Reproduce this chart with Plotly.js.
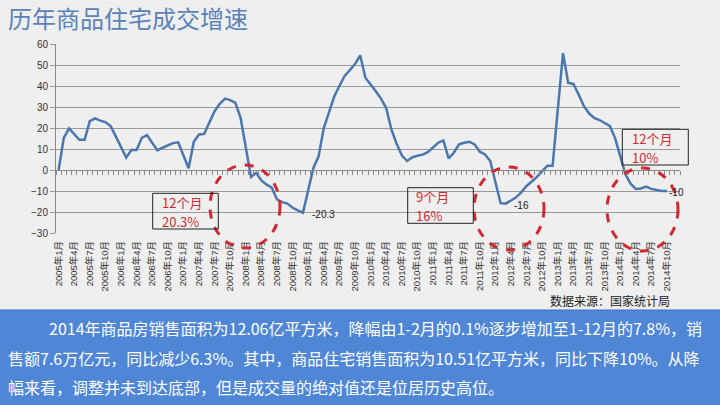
<!DOCTYPE html>
<html><head><meta charset="utf-8">
<script src="https://cdn.plot.ly/plotly-3.0.1.min.js"></script>
<style>html,body{margin:0;padding:0;background:#efefef;}#chart{width:720px;height:405px;}</style>
</head><body><div id="chart"></div>
<script>
// ---- data (cumulative YoY growth of residential sales area, %) ----
const years = [2005, 2006, 2007, 2008, 2009, 2010, 2011, 2012, 2013, 2014];
const v2005 = [0, 15.3, 19.8, 17, 14.4, 14.4, 23.3, 24.6, 23.5, 22.8, 20.9, 16];
const v2006 = [null, 5.9, 9.5, 9.5, 15.3, 16.6, 13, 9.3, 10.6, 11.7, 12.8, 13.2];
const v2007 = [null, 0.8, 13.4, 16.9, 17.2, 22.5, 28, 31.5, 34, 33.3, 32, 24.8];
const v2008 = [null, -3.3, -1.3, -5, -7, -8.4, -14, -15.3, -16, -18, -19.2, -20.3];
const v2009 = [null, 1, 6.5, 20, 27.5, 35, 40, 44.8, 47.5, 50.5, 54.6, 43.9];
const v2010 = [null, 37.5, 34, 29.5, 19.3, 12.5, 7, 4.3, 6, 6.8, 7.3, 8.5];
const v2011 = [null, 13, 14.1, 5.5, 8.2, 12.2, 13, 13.4, 12.2, 8.7, 7.4, 4.3];
const v2012 = [null, -15.8, -16, -14.5, -13, -10.5, -7.6, -5.5, -3.3, -0.5, 2, 2];
const v2013 = [null, 55.7, 41.5, 41, 36, 30.5, 27, 24.8, 23.8, 22.5, 21, 15.3];
const v2014 = [null, -2, -6.5, -9, -8.8, -7.9, -9, -9.6, -10, -10];
const labelCats = ['2008年12月', '2012年3月', '2014年10月'];
const titleText = '历年商品住宅成交增速';
const sourceText = '数据来源：国家统计局';
const callouts = [['12个月', '20.3%'], ['9个月', '16%'], ['12个月', '10%']];
const noteLines = [
  '2014年商品房销售面积为12.06亿平方米，降幅由1-2月的0.1%逐步增加至1-12月的7.8%，销',
  '售额7.6万亿元，同比减少6.3%。其中，商品住宅销售面积为10.51亿平方米，同比下降10%。从降',
  '幅来看，调整并未到达底部，但是成交量的绝对值还是位居历史高位。'
];

// ---- build ----
const categories = [];
years.forEach(y => { for (let m = 1; m <= 12; m++) categories.push(y + '年' + m + '月'); });
const values = [].concat(v2005, v2006, v2007, v2008, v2009, v2010, v2011, v2012, v2013, v2014);
while (values.length < categories.length) values.push(null);
const tickCats = categories.filter((c, i) => i % 3 === 0);
const labelVals = labelCats.map(c => values[categories.indexOf(c)]);

// pixel -> paper helpers (layout only)
const L = 56, R = 680, T = 44, B = 233;
const px = x => (x - L) / (R - L);
const py = y => (B - y) / (B - T);

const CJK = 'Noto Sans CJK SC, sans-serif';
const RED = '#cf2a2e';

const traces = [
  {type: 'scatter', mode: 'lines', x: categories, y: values, connectgaps: true,
   line: {color: '#4a78ae', width: 2.5}, hoverinfo: 'skip', cliponaxis: false},
  {type: 'scatter', mode: 'lines', x: categories, y: values, xaxis: 'x2', yaxis: 'y',
   opacity: 0, hoverinfo: 'skip'}
];

const shapes = [
  {type: 'rect', xref: 'paper', yref: 'paper', x0: px(-2), x1: px(722), y0: py(408), y1: py(310),
   fillcolor: '#4f86d6', line: {color: '#3d70bd', width: 1}, layer: 'above'},
  {type: 'circle', xref: 'paper', yref: 'paper', x0: px(210), x1: px(280), y0: py(248), y1: py(165),
   line: {color: RED, width: 3, dash: 'dash'}},
  {type: 'circle', xref: 'paper', yref: 'paper', x0: px(474), x1: px(544), y0: py(250), y1: py(167),
   line: {color: RED, width: 3, dash: 'dash'}},
  {type: 'circle', xref: 'paper', yref: 'paper', x0: px(607), x1: px(678), y0: py(251), y1: py(168),
   line: {color: RED, width: 3, dash: 'dash'}}
];

const boxes = [[152.7, 218.3, 193.3, 229], [407.7, 473.3, 187.7, 223.3], [622.3, 688.3, 129.3, 165]];
const textLeft = [160, 414.3, 630];
const annotations = [];
callouts.forEach((lines, k) => {
  const b = boxes[k];
  shapes.push({type: 'rect', xref: 'paper', yref: 'paper', x0: px(b[0]), x1: px(b[1]), y0: py(b[3]), y1: py(b[2]),
               line: {color: '#222', width: 1}});
  const mid = (b[2] + b[3]) / 2 + 0.5;
  lines.forEach((t, j) => annotations.push({
    xref: 'paper', yref: 'paper', x: px(textLeft[k]), y: py(mid + (j === 0 ? -9.5 : 9.5)),
    xanchor: 'left', yanchor: 'middle', text: t, showarrow: false,
    font: {family: CJK, size: 13, color: RED}
  }));
});
const labelShift = [[7, -2], [6, -2], [0, -1]];
labelCats.forEach((c, k) => annotations.push({
  xref: 'x', yref: 'y', x: c, y: labelVals[k], xanchor: 'left', yanchor: 'middle',
  xshift: labelShift[k][0], yshift: labelShift[k][1], text: String(labelVals[k]), showarrow: false,
  font: {family: 'Liberation Sans, sans-serif', size: 10, color: '#222'}
}));
const noteX = [47, 6, 6], noteY = [328, 357.5, 387];
noteLines.forEach((t, j) => annotations.push({
  xref: 'paper', yref: 'paper', x: px(noteX[j]), y: py(noteY[j]), xanchor: 'left', yanchor: 'middle',
  text: t, showarrow: false, font: {family: CJK, size: 16, color: '#ffffff'}
}));
annotations.push({
  xref: 'paper', yref: 'paper', x: px(672), y: py(300), xanchor: 'right', yanchor: 'middle',
  text: sourceText, showarrow: false, font: {family: CJK, size: 12, color: '#222'}
});

const layout = {
  width: 720, height: 405,
  paper_bgcolor: '#efefef', plot_bgcolor: '#efefef',
  margin: {l: L, r: 720 - R, t: T, b: 405 - B, pad: 0},
  showlegend: false,
  font: {family: 'Liberation Sans, Noto Sans CJK SC, sans-serif', color: '#333'},
  title: {text: titleText, font: {family: CJK, size: 24, color: '#5a83bb'},
          x: 8 / 720, xanchor: 'left', xref: 'container', y: 1 - 20 / 405, yanchor: 'middle', yref: 'container'},
  xaxis: {type: 'category', categoryorder: 'array', categoryarray: categories, range: [-0.5, categories.length - 0.5],
          tickmode: 'array', tickvals: tickCats, ticktext: tickCats, tickangle: -90, ticklabelstandoff: 5,
          tickfont: {family: 'Liberation Sans, Noto Sans CJK SC, sans-serif', size: 9.5, color: '#333'},
          showgrid: false, showline: false, ticks: '', zeroline: false, fixedrange: true},
  xaxis2: {type: 'category', categoryorder: 'array', categoryarray: categories, range: [-0.5, categories.length - 0.5],
           overlaying: 'x', anchor: 'free', position: 30 / 90, side: 'bottom',
           showline: true, linecolor: '#8a8a8a', linewidth: 1, ticks: 'outside', ticklen: 4, tickcolor: '#8a8a8a',
           tickson: 'boundaries', tickmode: 'linear', tick0: 0, dtick: 1, showticklabels: false,
           showgrid: false, zeroline: false, fixedrange: true},
  yaxis: {range: [-30, 60], tickmode: 'linear', tick0: 0, dtick: 10, showgrid: true, gridcolor: '#9a9a9a', gridwidth: 1,
          showline: true, linecolor: '#8a8a8a', ticks: 'outside', ticklen: 5, tickcolor: '#9a9a9a',
          tickfont: {family: 'Liberation Sans, sans-serif', size: 10, color: '#333'}, zeroline: false, fixedrange: true},
  shapes: shapes,
  annotations: annotations
};

Plotly.newPlot('chart', traces, layout, {staticPlot: true, displayModeBar: false});
</script>
</body></html>
